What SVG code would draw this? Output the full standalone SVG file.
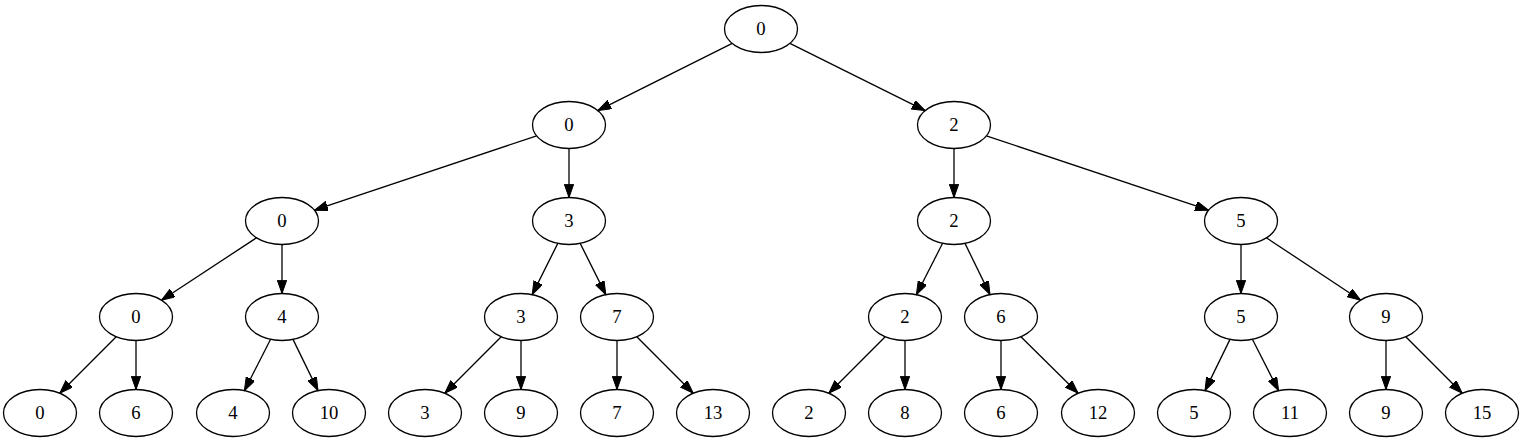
<svg xmlns="http://www.w3.org/2000/svg" width="1523" height="443" viewBox="0 0 1523 443">
<defs>
<style>
.n ellipse{fill:none;stroke:#000;stroke-width:1.3}
.n text{font-family:"Liberation Serif","Times New Roman",serif;font-size:18.67px;text-anchor:middle;fill:#000}
#edges line{stroke:#000;stroke-width:1.3;marker-end:url(#ah)}
</style>
<marker id="ah" markerUnits="userSpaceOnUse" markerWidth="14" markerHeight="10" refX="13.3" refY="4.7" orient="auto" viewBox="0 0 14 10">
<path d="M0,0 L13.3,4.7 L0,9.4 z" fill="#000" stroke="#000" stroke-width="1"/>
</marker>
</defs>
<rect width="1523" height="443" fill="#fff"/>
<g id="edges">
<line x1="732.2" y1="43.4" x2="597.8" y2="110.6"/>
<line x1="789.9" y1="43.4" x2="925.1" y2="110.6"/>
<line x1="536.6" y1="135.8" x2="314.4" y2="210.2"/>
<line x1="569" y1="148.5" x2="569" y2="197.5"/>
<line x1="954" y1="148.5" x2="954" y2="197.5"/>
<line x1="986.4" y1="135.8" x2="1208.6" y2="210.2"/>
<line x1="256.5" y1="237.8" x2="161.5" y2="300.2"/>
<line x1="282" y1="244.5" x2="282" y2="293.5"/>
<line x1="557.8" y1="243.4" x2="532.2" y2="294.6"/>
<line x1="580.2" y1="243.4" x2="605.8" y2="294.6"/>
<line x1="942.6" y1="243.3" x2="916.4" y2="294.7"/>
<line x1="965.0" y1="243.4" x2="990.0" y2="294.6"/>
<line x1="1241" y1="244.5" x2="1241" y2="293.5"/>
<line x1="1266.4" y1="237.8" x2="1360.6" y2="300.2"/>
<line x1="116.2" y1="336.8" x2="59.8" y2="393.2"/>
<line x1="136" y1="340.5" x2="136" y2="389.5"/>
<line x1="270.6" y1="339.3" x2="244.4" y2="390.7"/>
<line x1="293.0" y1="339.4" x2="318.0" y2="390.6"/>
<line x1="501.2" y1="336.8" x2="444.8" y2="393.2"/>
<line x1="521" y1="340.5" x2="521" y2="389.5"/>
<line x1="617" y1="340.5" x2="617" y2="389.5"/>
<line x1="636.8" y1="336.8" x2="693.2" y2="393.2"/>
<line x1="885.2" y1="336.8" x2="828.8" y2="393.2"/>
<line x1="905" y1="340.5" x2="905" y2="389.5"/>
<line x1="1001" y1="340.5" x2="1001" y2="389.5"/>
<line x1="1020.9" y1="336.7" x2="1078.1" y2="393.3"/>
<line x1="1230.0" y1="339.4" x2="1205.0" y2="390.6"/>
<line x1="1252.4" y1="339.3" x2="1278.6" y2="390.7"/>
<line x1="1386" y1="340.5" x2="1386" y2="389.5"/>
<line x1="1405.8" y1="336.8" x2="1462.2" y2="393.2"/>
</g>
<g id="n_root" class="n"><ellipse cx="761" cy="29" rx="36.5" ry="23.5"/><text x="761" y="35">0</text></g>
<g id="n_l1_0" class="n"><ellipse cx="569" cy="125" rx="36.5" ry="23.5"/><text x="569" y="131">0</text></g>
<g id="n_l1_1" class="n"><ellipse cx="954" cy="125" rx="36.5" ry="23.5"/><text x="954" y="131">2</text></g>
<g id="n_l2_0" class="n"><ellipse cx="282" cy="221" rx="36.5" ry="23.5"/><text x="282" y="227">0</text></g>
<g id="n_l2_1" class="n"><ellipse cx="569" cy="221" rx="36.5" ry="23.5"/><text x="569" y="227">3</text></g>
<g id="n_l2_2" class="n"><ellipse cx="954" cy="221" rx="36.5" ry="23.5"/><text x="954" y="227">2</text></g>
<g id="n_l2_3" class="n"><ellipse cx="1241" cy="221" rx="36.5" ry="23.5"/><text x="1241" y="227">5</text></g>
<g id="n_l3_0" class="n"><ellipse cx="136" cy="317" rx="36.5" ry="23.5"/><text x="136" y="323">0</text></g>
<g id="n_l3_1" class="n"><ellipse cx="282" cy="317" rx="36.5" ry="23.5"/><text x="282" y="323">4</text></g>
<g id="n_l3_2" class="n"><ellipse cx="521" cy="317" rx="36.5" ry="23.5"/><text x="521" y="323">3</text></g>
<g id="n_l3_3" class="n"><ellipse cx="617" cy="317" rx="36.5" ry="23.5"/><text x="617" y="323">7</text></g>
<g id="n_l3_4" class="n"><ellipse cx="905" cy="317" rx="36.5" ry="23.5"/><text x="905" y="323">2</text></g>
<g id="n_l3_5" class="n"><ellipse cx="1001" cy="317" rx="36.5" ry="23.5"/><text x="1001" y="323">6</text></g>
<g id="n_l3_6" class="n"><ellipse cx="1241" cy="317" rx="36.5" ry="23.5"/><text x="1241" y="323">5</text></g>
<g id="n_l3_7" class="n"><ellipse cx="1386" cy="317" rx="36.5" ry="23.5"/><text x="1386" y="323">9</text></g>
<g id="n_l4_0" class="n"><ellipse cx="40" cy="413" rx="36.5" ry="23.5"/><text x="40" y="419">0</text></g>
<g id="n_l4_1" class="n"><ellipse cx="136" cy="413" rx="36.5" ry="23.5"/><text x="136" y="419">6</text></g>
<g id="n_l4_2" class="n"><ellipse cx="233" cy="413" rx="36.5" ry="23.5"/><text x="233" y="419">4</text></g>
<g id="n_l4_3" class="n"><ellipse cx="329" cy="413" rx="36.5" ry="23.5"/><text x="329" y="419">10</text></g>
<g id="n_l4_4" class="n"><ellipse cx="425" cy="413" rx="36.5" ry="23.5"/><text x="425" y="419">3</text></g>
<g id="n_l4_5" class="n"><ellipse cx="521" cy="413" rx="36.5" ry="23.5"/><text x="521" y="419">9</text></g>
<g id="n_l4_6" class="n"><ellipse cx="617" cy="413" rx="36.5" ry="23.5"/><text x="617" y="419">7</text></g>
<g id="n_l4_7" class="n"><ellipse cx="713" cy="413" rx="36.5" ry="23.5"/><text x="713" y="419">13</text></g>
<g id="n_l4_8" class="n"><ellipse cx="809" cy="413" rx="36.5" ry="23.5"/><text x="809" y="419">2</text></g>
<g id="n_l4_9" class="n"><ellipse cx="905" cy="413" rx="36.5" ry="23.5"/><text x="905" y="419">8</text></g>
<g id="n_l4_10" class="n"><ellipse cx="1001" cy="413" rx="36.5" ry="23.5"/><text x="1001" y="419">6</text></g>
<g id="n_l4_11" class="n"><ellipse cx="1098" cy="413" rx="36.5" ry="23.5"/><text x="1098" y="419">12</text></g>
<g id="n_l4_12" class="n"><ellipse cx="1194" cy="413" rx="36.5" ry="23.5"/><text x="1194" y="419">5</text></g>
<g id="n_l4_13" class="n"><ellipse cx="1290" cy="413" rx="36.5" ry="23.5"/><text x="1290" y="419">11</text></g>
<g id="n_l4_14" class="n"><ellipse cx="1386" cy="413" rx="36.5" ry="23.5"/><text x="1386" y="419">9</text></g>
<g id="n_l4_15" class="n"><ellipse cx="1482" cy="413" rx="36.5" ry="23.5"/><text x="1482" y="419">15</text></g>
</svg>
